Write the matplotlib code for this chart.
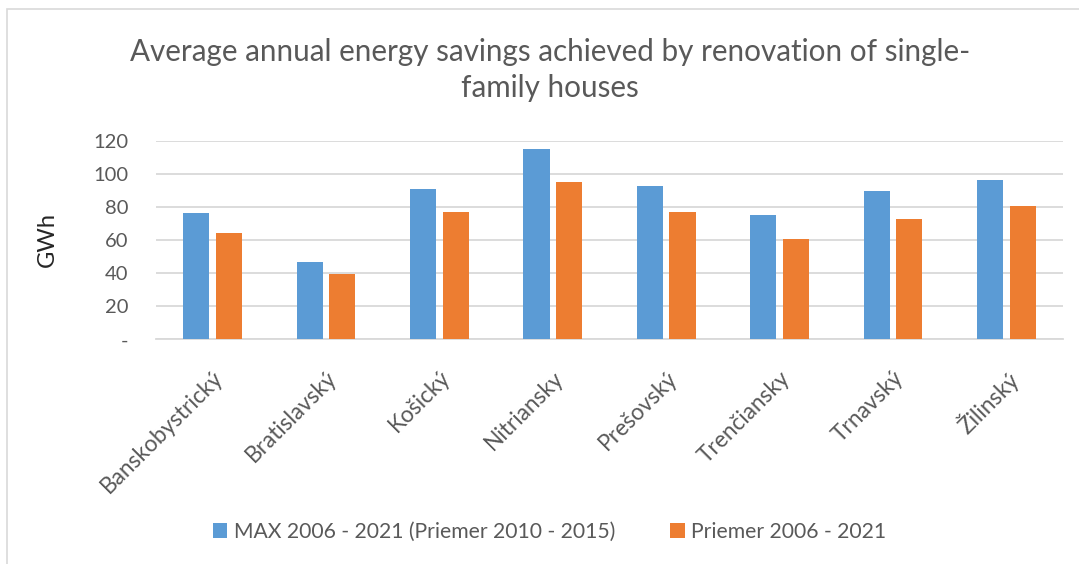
import matplotlib
matplotlib.use('Agg')
import matplotlib.pyplot as plt
import numpy as np
from matplotlib.patches import Rectangle

# data
regions = ['Banskobystrický', 'Bratislavský', 'Košický', 'Nitriansky',
           'Prešovský', 'Trenčiansky', 'Trnavský', 'Žilinský']
max_values = [76.1, 46.9, 91.0, 114.8, 92.8, 75.3, 89.4, 96.3]
avg_values = [64.0, 39.5, 76.9, 95.0, 76.9, 60.8, 72.9, 80.5]
series_names = ['MAX 2006 - 2021 (Priemer 2010 - 2015)', 'Priemer 2006 - 2021']
y_ticks = [0, 20, 40, 60, 80, 100, 120]
y_tick_labels = ['-', '20', '40', '60', '80', '100', '120']

BLUE = '#5B9BD5'
ORANGE = '#ED7D31'
GRID = '#D9D9D9'
TEXT = '#595959'

plt.rcParams['font.family'] = ['Lato', 'DejaVu Sans']

fig = plt.figure(figsize=(10.79, 5.64), dpi=100)
W, H = 1079, 564

# chart frame (light border, runs off right/bottom)
fig.patches.append(Rectangle((7 / W, -0.05), 1.1, 1 - 9 / H + 0.05, transform=fig.transFigure,
                             fill=False, edgecolor=GRID, linewidth=1.2))

ax = fig.add_axes([156 / W, 1 - 339.3 / H, (1063 - 156) / W, (339.3 - 140.7) / H])

x = np.arange(len(regions))
bw = 0.23
off = 0.144
ax.bar(x - off, max_values, bw, color=BLUE, label=series_names[0], zorder=3)
ax.bar(x + off, avg_values, bw, color=ORANGE, label=series_names[1], zorder=3)

ax.set_xlim(-0.5, len(regions) - 0.5)
ax.set_ylim(0, 120)
ax.set_yticks(y_ticks)
ax.set_yticklabels(y_tick_labels)
ax.yaxis.grid(True, color=GRID, linewidth=1.3, zorder=0)
ax.set_axisbelow(True)

for s in ['left', 'right', 'top']:
    ax.spines[s].set_visible(False)
ax.spines['bottom'].set_color(GRID)
ax.spines['bottom'].set_linewidth(1.3)

ax.tick_params(axis='y', length=0, pad=20, labelsize=14.5, labelcolor=TEXT)
ax.tick_params(axis='x', length=0, pad=20, labelsize=16.3, labelcolor=TEXT)
ax.set_xticks(x)
ax.set_xticklabels(regions, rotation=45, ha='right', va='top', rotation_mode='anchor')

fig.text(47 / W, 1 - 240 / H, 'GWh', rotation=90, ha='center', va='center',
         fontsize=17, color='#262626')

fig.text(550 / W, 1 - 97 / H,
         'Average annual energy savings achieved by renovation of single-\nfamily houses',
         ha='center', va='baseline', fontsize=21.3, color=TEXT,
         linespacing=1.33)

fig.legend(loc='center', bbox_to_anchor=(0.5 + 10 / W, 1 - 532 / H), ncol=2, frameon=False,
           fontsize=15.2, labelcolor=TEXT, handlelength=0.7, handleheight=0.7,
           handletextpad=0.3, columnspacing=2.6)

fig.savefig('out.png', dpi=100)
